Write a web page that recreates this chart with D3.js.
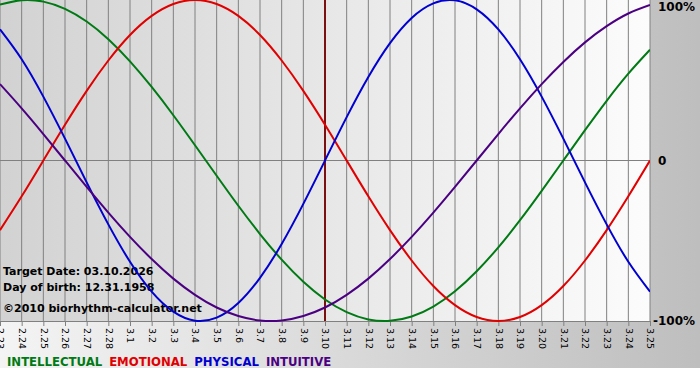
<!DOCTYPE html>
<html>
<head>
<meta charset="utf-8">
<script src="https://cdn.jsdelivr.net/npm/d3@7"></script>
<style>
  body { margin: 0; background: #fff; }
  text { font-family: "DejaVu Sans", Verdana, sans-serif; }
</style>
</head>
<body>
<div id="chart"></div>
<script>
// days shown on the x axis
var days = ["2.23", "2.24", "2.25", "2.26", "2.27", "2.28", "3.1", "3.2", "3.3", "3.4",
  "3.5", "3.6", "3.7", "3.8", "3.9", "3.10", "3.11", "3.12", "3.13", "3.14", "3.15",
  "3.16", "3.17", "3.18", "3.19", "3.20", "3.21", "3.22", "3.23", "3.24", "3.25"];
var targetDay = "3.10";

// cycle values (-1 .. 1), one per day
var intellectual = [0.972, 0.999, 0.990, 0.945, 0.866, 0.756, 0.618, 0.458, 0.282, 0.095,
  -0.095, -0.282, -0.458, -0.618, -0.756, -0.866, -0.945, -0.990, -0.999, -0.972, -0.910,
  -0.815, -0.690, -0.541, -0.372, -0.189, 0.000, 0.189, 0.372, 0.541, 0.690];
var emotional = [-0.434, -0.223, 0.000, 0.223, 0.434, 0.623, 0.782, 0.901, 0.975, 1.000,
  0.975, 0.901, 0.782, 0.623, 0.434, 0.223, 0.000, -0.223, -0.434, -0.623, -0.782,
  -0.901, -0.975, -1.000, -0.975, -0.901, -0.782, -0.623, -0.434, -0.223, 0.000];
var physical = [0.817, 0.631, 0.398, 0.136, -0.136, -0.398, -0.631, -0.817, -0.942, -0.998,
  -0.979, -0.888, -0.731, -0.520, -0.270, 0.000, 0.270, 0.520, 0.731, 0.888, 0.979,
  0.998, 0.942, 0.817, 0.631, 0.398, 0.136, -0.136, -0.398, -0.631, -0.817];
var intuitive = [0.476, 0.325, 0.165, 0.000, -0.165, -0.325, -0.476, -0.614, -0.736, -0.837,
  -0.916, -0.969, -0.997, -0.997, -0.969, -0.916, -0.837, -0.736, -0.614, -0.476, -0.325,
  -0.165, 0.000, 0.165, 0.325, 0.476, 0.614, 0.736, 0.837, 0.916, 0.969];

var seriesNames = ["INTELLECTUAL", "EMOTIONAL", "PHYSICAL", "INTUITIVE"];
var yTicks = [1, 0, -1];
var yTickLabels = ["100%", "0", "-100%"];
var infoLines = ["Target Date: 03.10.2026", "Day of birth: 12.31.1958", "\u00a92010 biorhythm-calculator.net"];

var colors = { INTELLECTUAL: "#007a14", EMOTIONAL: "#e00000", PHYSICAL: "#0000d0", INTUITIVE: "#4b0082" };
var seriesData = { INTELLECTUAL: intellectual, EMOTIONAL: emotional, PHYSICAL: physical, INTUITIVE: intuitive };

var W = 700, H = 380;
var plotW = 650, plotH = 321;

var svg = d3.select("#chart")
  .append("svg")
    .attr("width", W)
    .attr("height", H);

var defs = svg.append("defs");
// outer background: light left, grey right
var bg = defs.append("linearGradient").attr("id", "bg").attr("x1", 0).attr("x2", 1).attr("y1", 0).attr("y2", 0);
bg.append("stop").attr("offset", "0%").attr("stop-color", "#f4f4f4");
bg.append("stop").attr("offset", "100%").attr("stop-color", "#bebebe");
// plot area: grey left, white right
var pg = defs.append("linearGradient").attr("id", "pg").attr("x1", 0).attr("x2", 1).attr("y1", 0).attr("y2", 0);
pg.append("stop").attr("offset", "0%").attr("stop-color", "#d2d2d2");
pg.append("stop").attr("offset", "100%").attr("stop-color", "#fcfcfc");

svg.append("rect").attr("width", W).attr("height", 368).style("fill", "url(#bg)");
svg.append("rect").attr("width", plotW).attr("height", plotH).style("fill", "url(#pg)");

var x = d3.scalePoint()
  .domain(days)
  .range([0, plotW]);

var y = d3.scaleLinear()
  .domain([-1, 1])
  .range([plotH, 0]);

// vertical grid + x axis
var xAxis = svg.append("g")
  .attr("transform", "translate(0," + plotH + ")")
  .call(d3.axisBottom(x).tickSize(5).tickSizeOuter(0));
xAxis.select(".domain").attr("stroke", "#808080");
xAxis.selectAll(".tick line").attr("stroke", "#808080");
xAxis.selectAll(".tick text")
  .attr("transform", "rotate(90)")
  .attr("x", 7)
  .attr("y", 0)
  .attr("dy", "0.35em")
  .style("text-anchor", "start")
  .style("font-size", "9.5px")
  .style("fill", "#000");

svg.append("g")
  .selectAll("line")
  .data(days)
  .enter()
  .append("line")
    .attr("x1", function(d) { return x(d); })
    .attr("x2", function(d) { return x(d); })
    .attr("y1", 0)
    .attr("y2", plotH)
    .attr("stroke", "#808080")
    .attr("stroke-width", 1);

// zero line
svg.append("line")
  .attr("x1", 0).attr("x2", plotW)
  .attr("y1", y(0)).attr("y2", y(0))
  .attr("stroke", "#808080");

// right y labels
svg.append("g")
  .selectAll("text")
  .data(yTicks)
  .enter()
  .append("text")
    .attr("x", function(d) { return d < 0 ? 653 : 658; })
    .attr("y", function(d) { return d === 1 ? y(d) + 7 : y(d); })
    .attr("dy", "0.35em")
    .style("font-size", "12px")
    .style("font-weight", "bold")
    .style("fill", "#000")
    .text(function(d, i) { return yTickLabels[i]; });

// target day marker
svg.append("line")
  .attr("x1", x(targetDay)).attr("x2", x(targetDay))
  .attr("y1", 0).attr("y2", plotH)
  .attr("stroke", "#7a1010")
  .attr("stroke-width", 2);

// info text
svg.append("g")
  .selectAll("text")
  .data(infoLines)
  .enter()
  .append("text")
    .attr("x", 3)
    .attr("y", function(d, i) { return [275, 291, 312][i]; })
    .style("font-size", "11px")
    .style("font-weight", "bold")
    .style("fill", "#000")
    .text(function(d) { return d; });

// cycle curves
var line = d3.line()
  .x(function(d, i) { return x(days[i]); })
  .y(function(d) { return y(d); })
  .curve(d3.curveNatural);

var clip = defs.append("clipPath").attr("id", "clip");
clip.append("rect").attr("x", 0).attr("y", -2).attr("width", plotW).attr("height", plotH + 4);

svg.append("g")
  .attr("clip-path", "url(#clip)")
  .selectAll("path")
  .data(seriesNames)
  .enter()
  .append("path")
    .attr("d", function(d) { return line(seriesData[d]); })
    .attr("stroke", function(d) { return colors[d]; })
    .style("stroke-width", 2)
    .style("fill", "none");

// legend
var legend = svg.append("text")
  .attr("x", 7)
  .attr("y", 366)
  .style("font-size", "11.7px")
  .style("font-weight", "bold");
seriesNames.forEach(function(name, i) {
  legend.append("tspan")
    .attr("dx", i === 0 ? 0 : 7)
    .style("fill", colors[name])
    .text(name);
});
</script>
</body>
</html>
